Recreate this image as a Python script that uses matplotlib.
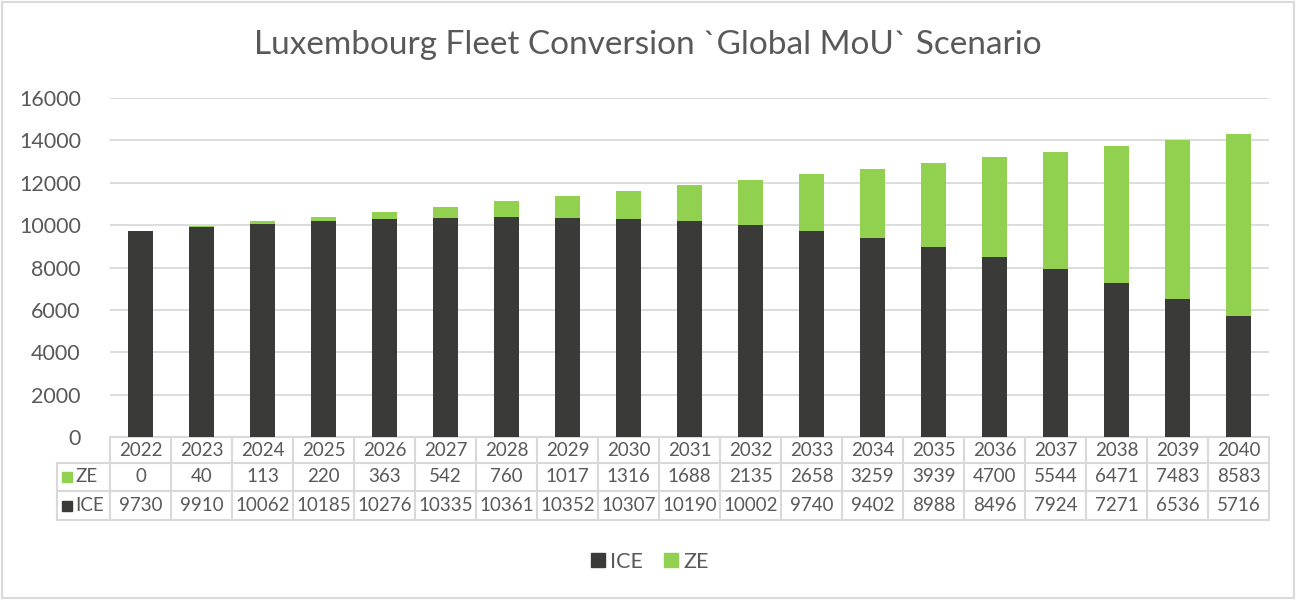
import matplotlib
matplotlib.use("Agg")
import matplotlib.pyplot as plt
from matplotlib.patches import Rectangle
from matplotlib.lines import Line2D
import matplotlib.transforms as mtransforms

years = ["2022", "2023", "2024", "2025", "2026", "2027", "2028", "2029", "2030", "2031",
         "2032", "2033", "2034", "2035", "2036", "2037", "2038", "2039", "2040"]
ze = [0, 40, 113, 220, 363, 542, 760, 1017, 1316, 1688, 2135, 2658, 3259, 3939, 4700,
      5544, 6471, 7483, 8583]
ice = [9730, 9910, 10062, 10185, 10276, 10335, 10361, 10352, 10307, 10190, 10002, 9740,
       9402, 8988, 8496, 7924, 7271, 6536, 5716]

ICE_C = "#3a3a38"
ZE_C = "#92d050"
TXT = "#595959"
GRID = "#d9d9d9"

plt.rcParams['font.family'] = ['Lato', 'DejaVu Sans']

fig = plt.figure(figsize=(12.96, 6.0), dpi=100)
ax = fig.add_axes([110/1296, 1-437/600, 1159/1296, 339/600])

x = list(range(len(years)))
ax.bar(x, ice, width=0.4, color=ICE_C, zorder=3)
ax.bar(x, ze, width=0.4, bottom=ice, color=ZE_C, zorder=3)

ax.set_xlim(-0.5, len(years) - 0.5)
ax.set_ylim(0, 16000)
ax.set_yticks(range(0, 16001, 2000))
ax.yaxis.grid(True, color=GRID, linewidth=1.3, zorder=0)
ax.set_xticks([])
for s in ax.spines.values():
    s.set_visible(False)
ax.tick_params(axis='y', length=0, pad=21, labelsize=15.5, labelcolor=TXT)

# data table
trans = mtransforms.blended_transform_factory(ax.transData, ax.transAxes)
rh = [0, -26/339, -54/339, -83/339]
n = len(years)
xl = -0.5 - 53/61.0
tkw = dict(transform=trans, clip_on=False, color=GRID, linewidth=1.5)
ax.plot([-0.5, n - 0.5], [rh[0], rh[0]], **tkw)
for r in rh[1:]:
    ax.plot([xl, n - 0.5], [r, r], **tkw)
for i in range(n + 1):
    ax.plot([i - 0.5, i - 0.5], [rh[0], rh[3]], **tkw)
ax.plot([xl, xl], [rh[1], rh[3]], **tkw)

fs = 13.5
for i in range(n):
    ax.text(i, (rh[0] + rh[1]) / 2, years[i], transform=trans, ha='center', va='center',
            fontsize=fs, color=TXT)
    ax.text(i, (rh[1] + rh[2]) / 2, str(ze[i]), transform=trans, ha='center', va='center',
            fontsize=fs, color=TXT)
    ax.text(i, (rh[2] + rh[3]) / 2, str(ice[i]), transform=trans, ha='center', va='center',
            fontsize=fs, color=TXT)

for (name, col, r0, r1) in [("ZE", ZE_C, rh[1], rh[2]), ("ICE", ICE_C, rh[2], rh[3])]:
    ym = (r0 + r1) / 2
    ax.plot([xl + 0.16], [ym], marker='s', markersize=7, color=col, transform=trans,
            clip_on=False, linestyle='none')
    ax.text(xl + 0.30, ym, name, transform=trans, ha='left', va='center', fontsize=fs,
            color=TXT)

# title
fig.text(0.5, 1 - 45/600, "Luxembourg Fleet Conversion `Global MoU` Scenario", ha='center',
         va='center', fontsize=24, color=TXT)

# legend
handles = [Line2D([], [], marker='s', linestyle='none', markersize=10, color=ICE_C),
           Line2D([], [], marker='s', linestyle='none', markersize=10, color=ZE_C)]
leg = fig.legend(handles, ["ICE", "ZE"], loc='center', bbox_to_anchor=(0.5, 1 - 562/600),
                 ncol=2, frameon=False, fontsize=15.5, handletextpad=0.05, columnspacing=0.8,
                 handlelength=1.0)
for t in leg.get_texts():
    t.set_color(TXT)

fig.patches.append(Rectangle((2/1296, 2/600), 1 - 4/1296, 1 - 4/600, transform=fig.transFigure,
                             fill=False, edgecolor=GRID, linewidth=1.5))

fig.savefig("out.png", dpi=100, facecolor='white')
